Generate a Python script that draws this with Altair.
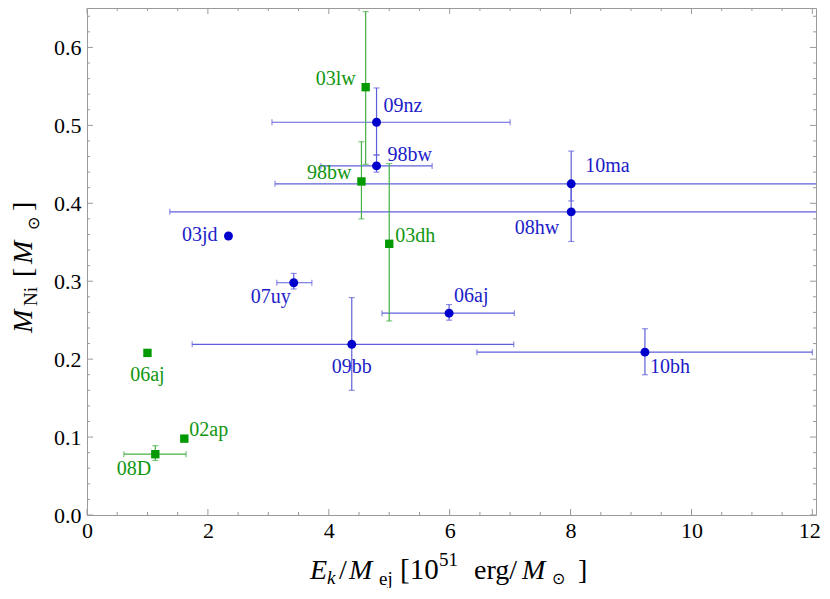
import altair as alt
import pandas as pd

# ---------------- data ----------------
names  = ["09nz", "98bw", "10ma", "08hw", "03jd", "07uy", "06aj", "09bb", "10bh",
          "03lw", "98bw", "03dh", "06aj", "02ap", "08D"]
groups = ["blue"] * 9 + ["green"] * 6
ek     = [4.79, 4.79, 8.01, 8.01, 2.34, 3.42, 5.99, 4.38, 9.23,
          4.61, 4.54, 5.00, 1.00, 1.61, 1.13]
mni    = [0.504, 0.448, 0.425, 0.389, 0.358, 0.298, 0.259, 0.219, 0.209,
          0.549, 0.428, 0.348, 0.208, 0.098, 0.078]
ek_lo  = [3.06, 3.87, 3.11, 1.37, None, 3.14, 4.88, 1.74, 6.45,
          None, None, None, None, None, 0.61]
ek_hi  = [7.00, 5.71, 13.5, 13.5, None, 3.72, 7.07, 7.06, 12.00,
          None, None, None, None, None, 1.64]
mni_lo = [0.462, 0.440, 0.403, 0.351, None, 0.290, 0.250, 0.160, 0.180,
          0.450, 0.380, 0.249, None, None, 0.070]
mni_hi = [0.548, 0.462, 0.467, 0.425, None, 0.310, 0.270, 0.279, 0.239,
          0.646, 0.479, 0.451, None, None, 0.089]

x_major = [0, 2, 4, 6, 8, 10, 12]
x_minor = [0.5, 1, 1.5, 2.5, 3, 3.5, 4.5, 5, 5.5, 6.5, 7, 7.5, 8.5, 9, 9.5, 10.5, 11, 11.5]
y_major = [0.0, 0.1, 0.2, 0.3, 0.4, 0.5, 0.6]
y_minor = [0.02, 0.04, 0.06, 0.08, 0.12, 0.14, 0.16, 0.18, 0.22, 0.24, 0.26, 0.28,
           0.32, 0.34, 0.36, 0.38, 0.42, 0.44, 0.46, 0.48, 0.52, 0.54, 0.56, 0.58, 0.62, 0.64]

# label placement (style, not data)
label_align = ["left", "left", "left", "right", "right", "right", "left", "center", "left",
               "right", "right", "left", "center", "left", "right"]
label_dx = [7, 11, 14, -12, -11, -3, 5, 0, 5, -10, -10, 6, 0, 5, -4]
label_dy = [-16, -11, -18, 16, -1, 14, -17, 23, 15, -8, -8, -8, 22, -9, 15]

# ---------------- styling ----------------
W, H = 729, 507
FONT = "Liberation Serif"
BLUE_PT, GREEN_PT = "#0000cc", "#009900"
BLUE_TXT, GREEN_TXT = "#1c1cc8", "#109610"
BLUE_ERR, GREEN_ERR = "#5f5fdc", "#45b045"
FRAME = "#9a9a9a"

df = pd.DataFrame({"name": names, "group": groups, "x": ek, "y": mni,
                   "xlo": ek_lo, "xhi": ek_hi, "ylo": mni_lo, "yhi": mni_hi})

xs = alt.Scale(domain=[0, 12.06], nice=False, zero=False)
ys = alt.Scale(domain=[0, 0.6506], nice=False, zero=False)
x_axis = alt.Axis(values=x_major, format="d", grid=False, ticks=False, domain=False,
                  labelFont=FONT, labelFontSize=22, labelColor="black", labelPadding=5,
                  labelFlush=False, labelOverlap=False, title=None,
                  labelOffset={"condition": {"test": "datum.value == 12", "value": -3}, "value": 0})
y_axis = alt.Axis(values=y_major, format=".1f", grid=False, ticks=False, domain=False,
                  labelFont=FONT, labelFontSize=22, labelColor="black", labelPadding=6,
                  labelFlush=False, labelOverlap=False, title=None)
X = lambda f: alt.X(f, type="quantitative", scale=xs, axis=x_axis)
Y = lambda f: alt.Y(f, type="quantitative", scale=ys, axis=y_axis)

col = alt.Color("group:N", scale=alt.Scale(domain=["blue", "green"], range=[BLUE_ERR, GREEN_ERR]), legend=None)

xerr_df = df.dropna(subset=["xlo"])
yerr_df = df.dropna(subset=["ylo"])

layers = []

# custom inward ticks on all four sides
def ticks_x(vals, ln):
    d = alt.Chart(pd.DataFrame({"v": vals}))
    return [d.mark_rule(color=FRAME, strokeWidth=1).encode(x=X("v"), y=alt.value(H), y2=alt.value(H - ln)),
            d.mark_rule(color=FRAME, strokeWidth=1).encode(x=X("v"), y=alt.value(0), y2=alt.value(ln))]

def ticks_y(vals, ln):
    d = alt.Chart(pd.DataFrame({"v": vals}))
    return [d.mark_rule(color=FRAME, strokeWidth=1).encode(y=Y("v"), x=alt.value(0), x2=alt.value(ln)),
            d.mark_rule(color=FRAME, strokeWidth=1).encode(y=Y("v"), x=alt.value(W), x2=alt.value(W - ln))]

layers += ticks_x(x_major, 6) + ticks_x(x_minor, 3) + ticks_y(y_major, 6) + ticks_y(y_minor, 3)

# error bars
xe = alt.Chart(xerr_df)
ye = alt.Chart(yerr_df)
layers.append(xe.mark_rule(strokeWidth=1.2, clip=True).encode(x=X("xlo"), x2="xhi", y=Y("y"), color=col))
layers.append(ye.mark_rule(strokeWidth=1.2, clip=True).encode(y=Y("ylo"), y2="yhi", x=X("x"), color=col))
for f in ["xlo", "xhi"]:
    layers.append(xe.mark_tick(orient="vertical", size=6, thickness=1.2, clip=True).encode(
        x=X(f), y=Y("y"), color=col))
for f in ["ylo", "yhi"]:
    layers.append(ye.mark_tick(orient="horizontal", size=6, thickness=1.2, clip=True).encode(
        x=X("x"), y=Y(f), color=col))

# points
layers.append(alt.Chart(df[df.group == "blue"]).mark_circle(size=80, color=BLUE_PT, opacity=1).encode(
    x=X("x"), y=Y("y")))
layers.append(alt.Chart(df[df.group == "green"]).mark_square(size=70, color=GREEN_PT, opacity=1).encode(
    x=X("x"), y=Y("y")))

# labels
for i in range(len(names)):
    d = df.iloc[[i]]
    layers.append(alt.Chart(d).mark_text(
        align=label_align[i], baseline="middle", dx=label_dx[i], dy=label_dy[i],
        font=FONT, fontSize=20, color=BLUE_TXT if groups[i] == "blue" else GREEN_TXT
    ).encode(x=X("x"), y=Y("y"), text="name:N"))

# axis titles built from pieces (sub/superscripts)
one = pd.DataFrame({"a": [0]})
def piece(t, px, py, size=27, italic=False, angle=0):
    kw = dict(text=t, align="left", baseline="alphabetic", font=FONT, fontSize=size, color="black")
    if italic:
        kw["fontStyle"] = "italic"
    if angle:
        kw["angle"] = angle
    return alt.Chart(one).mark_text(**kw).encode(x=alt.value(px), y=alt.value(py))

xt = [("E", 223, 571, 28, True), ("k", 240, 576, 19, True), ("/", 252, 571, 28, False),
      ("M", 262, 571, 28, True), ("ej", 292, 577, 19, False), ("[10", 313, 571, 29, False),
      ("51", 352, 558, 19, False), ("erg/", 387, 571, 28, False), ("M", 435, 571, 28, True),
      ("\u2299", 465, 576, 16, False), ("]", 491, 571, 28, False)]
for t, px, py, s, it in xt:
    layers.append(piece(t, px, py, s, it))

yt = [("M", -55, 325, 28, True), ("Ni", -50, 298, 19, False), ("[", -55, 269, 28, False),
      ("M", -55, 256, 28, True), ("\u2299", -48, 222, 16, False), ("]", -55, 203, 28, False)]
for t, px, py, s, it in yt:
    layers.append(piece(t, px, py, s, it, angle=270))

chart = alt.layer(*layers).properties(
    width=W, height=H,
    padding={"left": 79, "top": 0, "right": 6, "bottom": 73},
    autosize=alt.AutoSizeParams(type="none"),
    background="white",
).configure_view(stroke=FRAME, strokeWidth=1).configure_axis(labelFont=FONT)

chart.save("out.html", embed_options={"renderer": "svg", "actions": False})
